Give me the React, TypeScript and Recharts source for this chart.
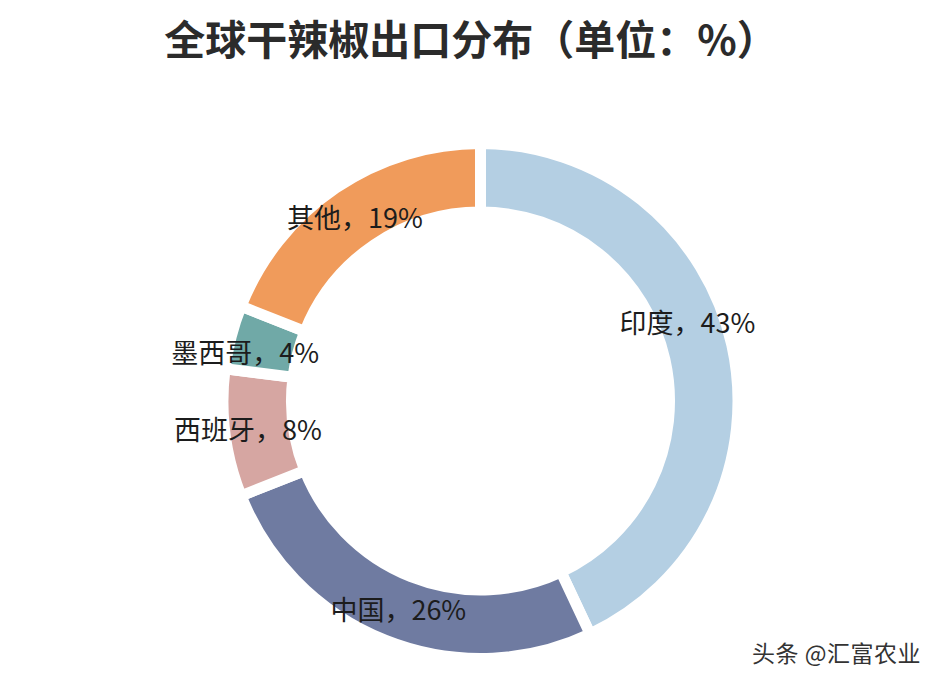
import { Cell, Pie, PieChart } from "recharts";

const names = ["印度", "中国", "西班牙", "墨西哥", "其他"];
const shares = [43, 26, 8, 4, 19];
const colors = ["#b4cfe3", "#6f7ba1", "#d6a6a2", "#70a9a7", "#f09b5b"];

const data = names.map((name, i) => ({ name, value: shares[i] }));

const FONT = '"Noto Sans CJK SC", "Noto Sans", sans-serif';
const RAD = Math.PI / 180;
// small hand nudges so labels sit where the original put them
const nudge: Record<number, [number, number]> = { 0: [-11, -31], 2: [-11, 0], 3: [-19, 6] };

function renderLabel(p: any) {
  const r = (p.innerRadius + p.outerRadius) / 2;
  const [dx, dy] = nudge[p.index] ?? [0, 0];
  const x = p.cx + r * Math.cos(-p.midAngle * RAD) + dx;
  const y = p.cy + r * Math.sin(-p.midAngle * RAD) + dy;
  return (
    <text
      x={x}
      y={y}
      textAnchor="middle"
      dominantBaseline="central"
      fontSize={27}
      fontFamily={FONT}
      fill="#1c1c1c"
    >
      {`${p.name}，${p.value}%`}
    </text>
  );
}

export default function App() {
  return (
    <div style={{ position: "absolute", left: 0, top: 0, width: 944, height: 682, background: "#fff" }}>
      <div
        style={{
          position: "absolute", left: 0, top: 9, width: 942, textAlign: "center",
          fontFamily: FONT, fontWeight: 700, fontSize: 41, color: "#2b2b2b", lineHeight: "56px",
        }}
      >
        全球干辣椒出口分布（单位：%）
      </div>
      <PieChart width={944} height={682} style={{ position: "absolute", left: 0, top: 0 }}>
        <Pie
          data={data}
          dataKey="value"
          nameKey="name"
          cx={475.5}
          cy={396}
          innerRadius={189}
          outerRadius={257.5}
          startAngle={90}
          endAngle={-270}
          stroke="#fff"
          strokeWidth={11}
          label={renderLabel}
          labelLine={false}
          isAnimationActive={false}
        >
          {data.map((d, i) => <Cell key={d.name} fill={colors[i]} />)}
        </Pie>
      </PieChart>
      <div
        style={{
          position: "absolute", left: 752, top: 635, fontFamily: FONT, fontSize: 23,
          color: "#333", whiteSpace: "nowrap", letterSpacing: 0.5,
        }}
      >
        头条 @汇富农业
      </div>
    </div>
  );
}
